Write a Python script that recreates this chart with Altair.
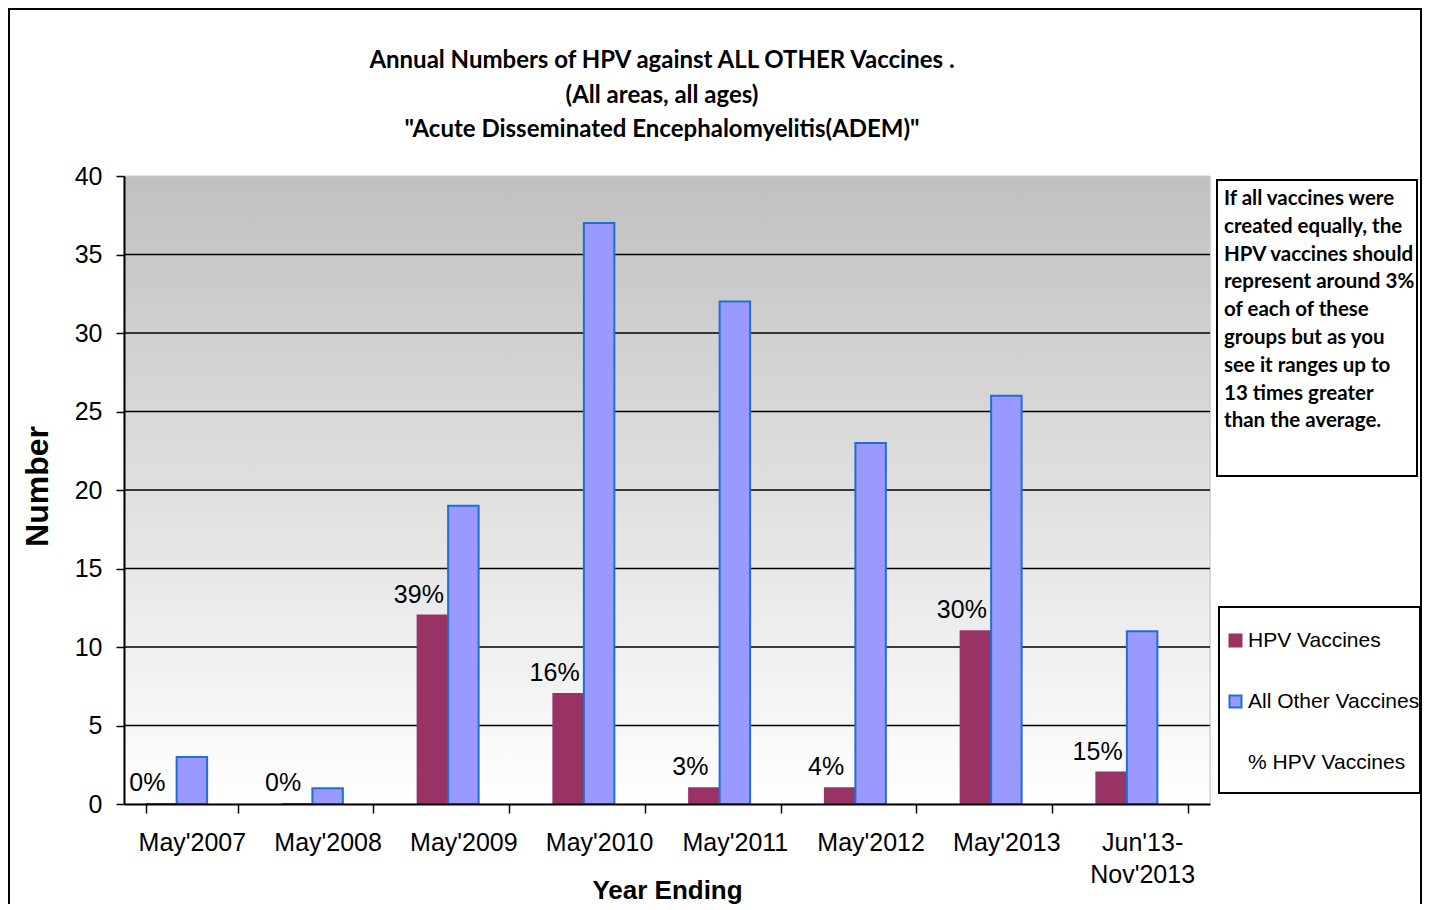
import altair as alt
import pandas as pd

categories = ["May'2007", "May'2008", "May'2009", "May'2010", "May'2011",
              "May'2012", "May'2013", "Jun'13-\nNov'2013"]
hpv_counts = [0, 0, 12, 7, 1, 1, 11, 2]
other_counts = [3, 1, 19, 37, 32, 23, 26, 11]
pct_values = [0.0, 0.0, 0.39, 0.16, 0.03, 0.04, 0.30, 0.15]
pct_labels = ["0%", "0%", "39%", "16%", "3%", "4%", "30%", "15%"]
series_names = ["HPV Vaccines", "All Other Vaccines", "% HPV Vaccines"]
series_fill = ["#993366", "#9999FF", "transparent"]
series_stroke = ["#993366", "#1F6FD8", "transparent"]
y_ticks = [0, 5, 10, 15, 20, 25, 30, 35, 40]
grid_values = [5, 10, 15, 20, 25, 30, 35]
title_text = ("Annual Numbers of HPV against ALL OTHER Vaccines .\n"
              "(All areas, all ages)\n"
              "\"Acute Disseminated Encephalomyelitis(ADEM)\"")
note_text = ("If all vaccines were\ncreated equally, the\nHPV vaccines should\n"
             "represent around 3%\nof each of these\ngroups but as you\n"
             "see it ranges up to\n13 times greater\nthan the average.")

rows = []
for i, c in enumerate(categories):
    rows.append({"cat": c, "series": series_names[0], "value": hpv_counts[i], "pct": pct_labels[i]})
    rows.append({"cat": c, "series": series_names[1], "value": other_counts[i], "pct": ""})
    rows.append({"cat": c, "series": series_names[2], "value": pct_values[i], "pct": ""})
df = pd.DataFrame(rows)
label_df = df[df["series"] == series_names[0]]

W, H = 1086, 628
ARIAL = "Liberation Sans"
CAL = "Lato"

x_enc = alt.X(
    "cat:N", sort=categories,
    scale=alt.Scale(paddingInner=0.326, paddingOuter=0.163),
    axis=alt.Axis(
        title="Year Ending", titleFont=ARIAL, titleFontSize=26, titleFontWeight="bold",
        titleColor="black", titleX=W / 2, titleY=86, titleBaseline="middle",
        labelFont=ARIAL, labelFontSize=25, labelColor="black", labelAngle=0,
        labelPadding=17, labelLineHeight=32,
        labelExpr="split(datum.label, '\\n')",
        tickBand="extent", tickSize=9, tickColor="black", tickWidth=1.5,
        domainColor="black", domainWidth=2, grid=False, zindex=1,
    ),
)
y_scale = alt.Scale(domain=[0, 40], nice=False)
y_axis = alt.Axis(
    title="Number", titleFont=ARIAL, titleFontSize=32, titleFontWeight="bold",
    titleColor="black", titleX=-87, titleY=H / 2 - 4, titleAngle=-90,
    titleAlign="center", titleBaseline="middle",
    values=y_ticks,
    labelFont=ARIAL, labelFontSize=25, labelColor="black", labelPadding=14,
    tickSize=8, tickColor="black", tickWidth=1.5,
    domainColor="black", domainWidth=2, grid=False, zindex=1,
)

color_scale = alt.Scale(domain=series_names, range=series_fill)
stroke_scale = alt.Scale(domain=series_names, range=series_stroke)
legend = alt.Legend(
    title=None, orient="none", legendX=1101, legendY=454, padding=0,
    symbolType="square", symbolSize=144, symbolStrokeWidth=2,
    labelFont=ARIAL, labelFontSize=21, labelColor="black", labelOffset=2,
    rowPadding=39, labelLimit=400,
)

one = pd.DataFrame({"k": [0]})

background = alt.Chart(one).mark_rect(
    color=alt.LinearGradient(
        gradient="linear", x1=0, y1=0, x2=0, y2=1,
        stops=[alt.GradientStop(color="#C0C0C0", offset=0),
               alt.GradientStop(color="#FFFFFF", offset=1)],
    ),
    stroke="#cccccc", strokeWidth=1,
).encode(x=alt.value(0), x2=alt.value(W), y=alt.value(0), y2=alt.value(H))

grid = alt.Chart(pd.DataFrame({"g": grid_values})).mark_rule(
    color="black", strokeWidth=1.5,
).encode(y=alt.Y("g:Q", scale=y_scale, axis=y_axis))

bars = alt.Chart(df).mark_bar(strokeWidth=2).encode(
    x=x_enc,
    xOffset=alt.XOffset("series:N", sort=series_names, scale=alt.Scale(paddingInner=0)),
    y=alt.Y("value:Q", scale=y_scale, axis=y_axis),
    fill=alt.Fill("series:N", scale=color_scale, legend=legend, sort=series_names),
    stroke=alt.Stroke("series:N", scale=stroke_scale, legend=legend, sort=series_names),
)

labels = alt.Chart(label_df).mark_text(
    font=ARIAL, fontSize=25, color="black", baseline="bottom", dy=-8, dx=-14,
).encode(
    x=alt.X("cat:N", sort=categories),
    xOffset=alt.XOffset("series:N", sort=series_names),
    y=alt.Y("value:Q", scale=y_scale),
    text="pct:N",
)

title = alt.Chart(pd.DataFrame({"t": [title_text]})).mark_text(
    font=CAL, fontSize=24, fontWeight="bold", color="black", align="center",
    baseline="middle", lineBreak="\n", lineHeight=34.5,
).encode(x=alt.value(W / 2 - 5), y=alt.value(-115), text="t:N")

outer_border = alt.Chart(one).mark_rect(fill="transparent", stroke="black", strokeWidth=2).encode(
    x=alt.value(-115), x2=alt.value(1297), y=alt.value(-167), y2=alt.value(760),
)
note_box = alt.Chart(one).mark_rect(fill="white", stroke="black", strokeWidth=2).encode(
    x=alt.value(1093), x2=alt.value(1293), y=alt.value(4), y2=alt.value(300),
)
note = alt.Chart(pd.DataFrame({"t": [note_text]})).mark_text(
    font=CAL, fontSize=20.5, fontWeight="bold", color="black", align="left",
    baseline="middle", lineBreak="\n", lineHeight=27.8,
).encode(x=alt.value(1100), y=alt.value(23), text="t:N")
legend_box = alt.Chart(one).mark_rect(fill="white", stroke="black", strokeWidth=2).encode(
    x=alt.value(1095), x2=alt.value(1296), y=alt.value(431), y2=alt.value(617),
)

chart = alt.layer(background, grid, bars, labels, title, outer_border, note_box, note, legend_box).properties(
    width=W, height=H,
    autosize=alt.AutoSizeParams(type="none"),
    padding={"left": 116, "top": 168, "right": 214, "bottom": 100},
).configure_view(stroke=None).configure(background="white")

chart.save("out.html", embed_options={"renderer": "svg", "actions": False})
